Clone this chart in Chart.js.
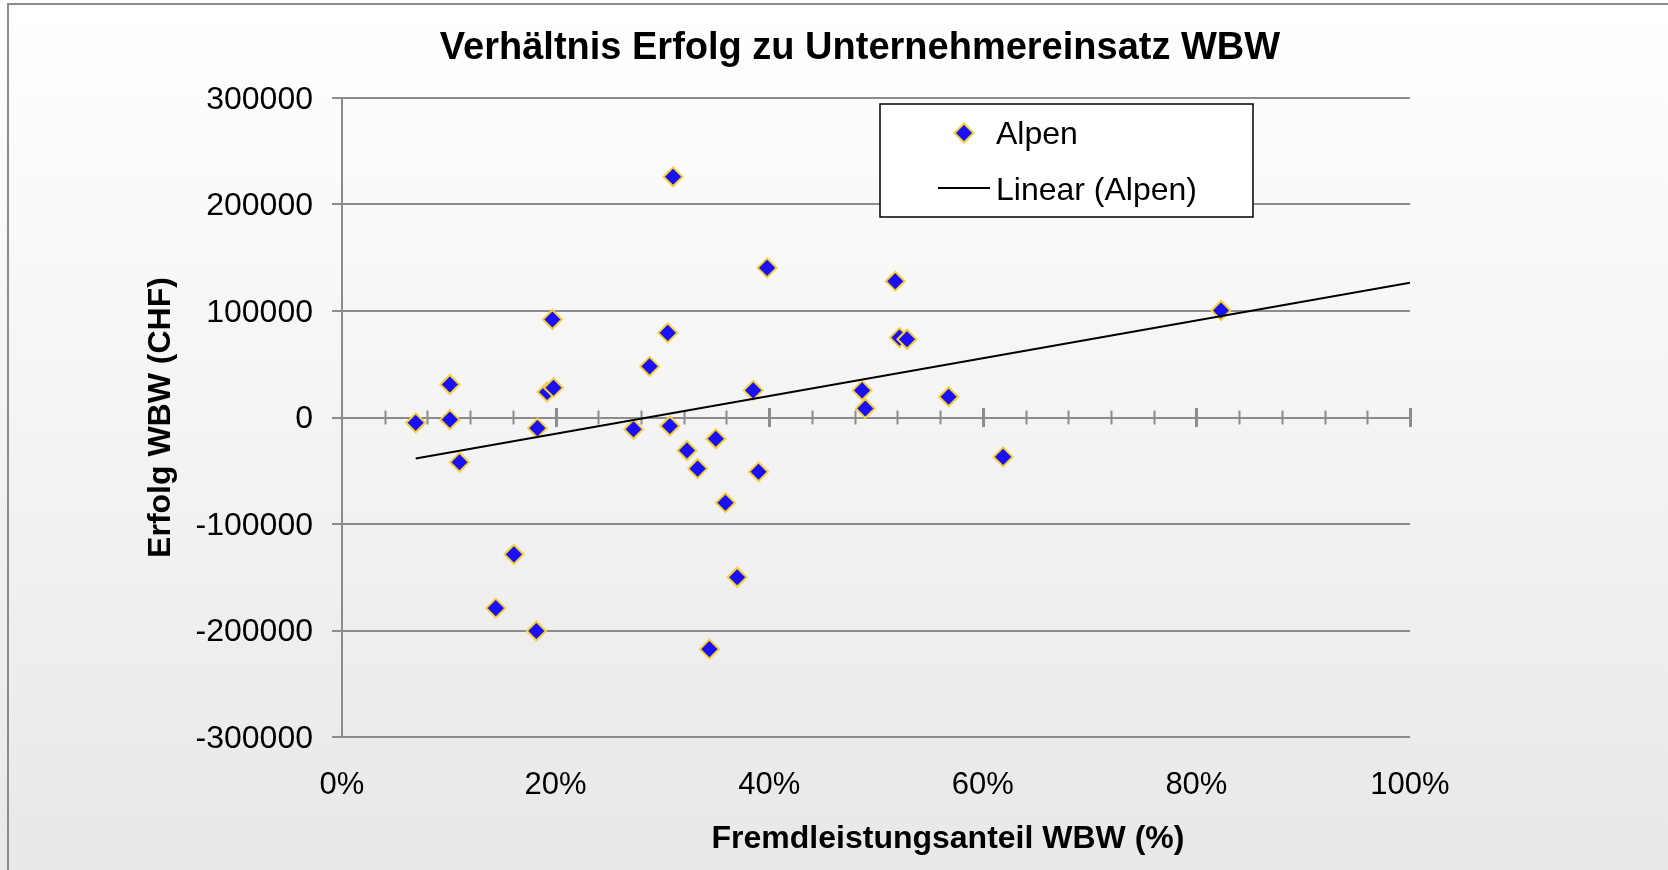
<!DOCTYPE html>
<html>
<head>
<meta charset="utf-8">
<script src="https://cdn.jsdelivr.net/npm/chart.js@4.4.1/dist/chart.umd.min.js"></script>
<style>
  html, body { margin: 0; padding: 0; background: #fff; }
  #wrap { width: 1668px; height: 870px; }
</style>
</head>
<body>
<div id="wrap"><canvas id="chart" width="1668" height="870"></canvas></div>
<script>
// Fremdleistungsanteil WBW (%) pro Betrieb
const alpenX = [6.9, 10.1, 10.1, 11.0, 19.7, 19.2, 19.8, 18.3, 31.0, 30.5, 28.8,
  27.3, 30.7, 32.3, 33.3, 35.0, 38.5, 39.8, 39.0, 16.1, 14.4, 18.2, 37.0, 34.4,
  35.9, 51.8, 52.2, 52.9, 48.7, 49.0, 56.8, 61.9, 82.3];
// Erfolg WBW (CHF)
const alpenY = [-5000, 31000, -2000, -42000, 92000, 24000, 28000, -10000, 226000,
  79500, 48000, -11000, -8000, -31000, -48000, -20000, 25500, 140500, -51000,
  -128500, -179000, -200500, -150000, -217500, -80000, 128000, 75000, 73500,
  25500, 8500, 19500, -37000, 100500];
// Linear (Alpen) - Anfang und Ende der Trendlinie
const trendX = [6.9, 100];
const trendY = [-38500, 126500];

const xTickValues = [0, 20, 40, 60, 80, 100];
const yTickValues = [-300000, -200000, -100000, 0, 100000, 200000, 300000];
const xMinorStep = 4;

const FONT = "'Liberation Sans', Arial, sans-serif";
const GRID = '#8c8c8c';
const MARKER_FILL = '#1a10f2';
const MARKER_BORDER = '#f4d03c';

const pointsData = alpenX.map((x, i) => ({ x: x, y: alpenY[i] }));
const trendData = trendX.map((x, i) => ({ x: x, y: trendY[i] }));

// Hintergrund, Rahmen, Titel, Legende
const decor = {
  id: 'decor',
  beforeDraw(chart) {
    const ctx = chart.ctx;
    const g = ctx.createLinearGradient(0, 0, 0, chart.height);
    g.addColorStop(0, '#ffffff');
    g.addColorStop(1, '#e8e8e8');
    ctx.save();
    ctx.fillStyle = g;
    ctx.fillRect(0, 0, chart.width, chart.height);
    ctx.strokeStyle = GRID;
    ctx.lineWidth = 2;
    ctx.beginPath();
    ctx.moveTo(8, chart.height);
    ctx.lineTo(8, 4);
    ctx.lineTo(chart.width, 4);
    ctx.stroke();
    ctx.restore();
  },
  beforeDatasetsDraw(chart) {
    // Teilstriche auf der Nulllinie
    const ctx = chart.ctx;
    const xs = chart.scales.x;
    const y0 = chart.scales.y.getPixelForValue(0);
    ctx.save();
    ctx.strokeStyle = GRID;
    for (let v = xMinorStep; v <= xs.max; v += xMinorStep) {
      const major = xTickValues.includes(v);
      const px = Math.round(xs.getPixelForValue(v)) + 0.5;
      const h = major ? 9.5 : 7;
      ctx.lineWidth = major ? 3 : 2;
      ctx.beginPath();
      ctx.moveTo(px, y0 - h);
      ctx.lineTo(px, y0 + h);
      ctx.stroke();
    }
    ctx.restore();
  },
  afterDraw(chart) {
    const ctx = chart.ctx;
    ctx.save();
    ctx.fillStyle = '#000';
    ctx.textAlign = 'center';
    ctx.textBaseline = 'alphabetic';
    ctx.font = 'bold 38px ' + FONT;
    ctx.fillText('Verhältnis Erfolg zu Unternehmereinsatz WBW', 860, 59);
    ctx.font = 'bold 32px ' + FONT;
    ctx.fillText('Fremdleistungsanteil WBW (%)', 948, 848);

    // Legende
    ctx.fillStyle = '#ffffff';
    ctx.fillRect(880, 104, 373, 113);
    ctx.strokeStyle = '#000';
    ctx.lineWidth = 1.5;
    ctx.strokeRect(880, 104, 373, 113);

    const pts = chart.data.datasets[1];
    ctx.fillStyle = pts.backgroundColor;
    ctx.strokeStyle = pts.borderColor;
    ctx.lineWidth = pts.borderWidth;
    ctx.beginPath();
    const cx = 964, cy = 133, r = pts.pointRadius;
    ctx.moveTo(cx, cy - r);
    ctx.lineTo(cx + r, cy);
    ctx.lineTo(cx, cy + r);
    ctx.lineTo(cx - r, cy);
    ctx.closePath();
    ctx.fill();
    ctx.stroke();

    const tr = chart.data.datasets[0];
    ctx.strokeStyle = tr.borderColor;
    ctx.lineWidth = tr.borderWidth;
    ctx.beginPath();
    ctx.moveTo(938, 188);
    ctx.lineTo(990, 188);
    ctx.stroke();

    ctx.fillStyle = '#000';
    ctx.textAlign = 'left';
    ctx.font = '32px ' + FONT;
    ctx.fillText(pts.label, 996, 144);
    ctx.fillText(tr.label, 996, 200);
    ctx.restore();
  }
};

new Chart(document.getElementById('chart'), {
  type: 'scatter',
  data: {
    datasets: [
      {
        label: 'Linear (Alpen)',
        data: trendData,
        showLine: true,
        borderColor: '#000',
        borderWidth: 2,
        pointRadius: 0,
        pointHoverRadius: 0
      },
      {
        label: 'Alpen',
        data: pointsData,
        pointStyle: 'rectRot',
        pointRadius: 9.5,
        pointHoverRadius: 9.5,
        backgroundColor: MARKER_FILL,
        borderColor: MARKER_BORDER,
        borderWidth: 2
      }
    ]
  },
  options: {
    responsive: false,
    animation: false,
    devicePixelRatio: 1,
    layout: { padding: { left: 0, top: 98, right: 258, bottom: 0 } },
    plugins: {
      legend: { display: false },
      title: { display: false },
      tooltip: { enabled: false }
    },
    scales: {
      x: {
        type: 'linear',
        min: 0,
        max: 100,
        afterBuildTicks: s => { s.ticks = xTickValues.map(v => ({ value: v })); },
        afterFit: s => { s.height = 133; },
        grid: { display: false, drawTicks: false },
        border: { display: false },
        ticks: {
          padding: 30,
          color: '#000',
          font: { family: FONT, size: 31 },
          callback: v => v + '%'
        }
      },
      y: {
        type: 'linear',
        min: -300000,
        max: 300000,
        afterBuildTicks: s => { s.ticks = yTickValues.map(v => ({ value: v })); },
        afterFit: s => { s.width = 342; },
        grid: { color: GRID, lineWidth: 2, tickLength: 10, drawTicks: true },
        border: { display: true, color: GRID, width: 2 },
        ticks: {
          padding: 19,
          labelOffset: 2,
          color: '#000',
          font: { family: FONT, size: 32 },
          callback: v => String(v)
        },
        title: {
          display: true,
          text: 'Erfolg WBW (CHF)',
          color: '#000',
          font: { family: FONT, size: 32, weight: 'bold' },
          padding: { top: 142, bottom: 0 }
        }
      }
    }
  },
  plugins: [decor]
});
</script>
</body>
</html>
